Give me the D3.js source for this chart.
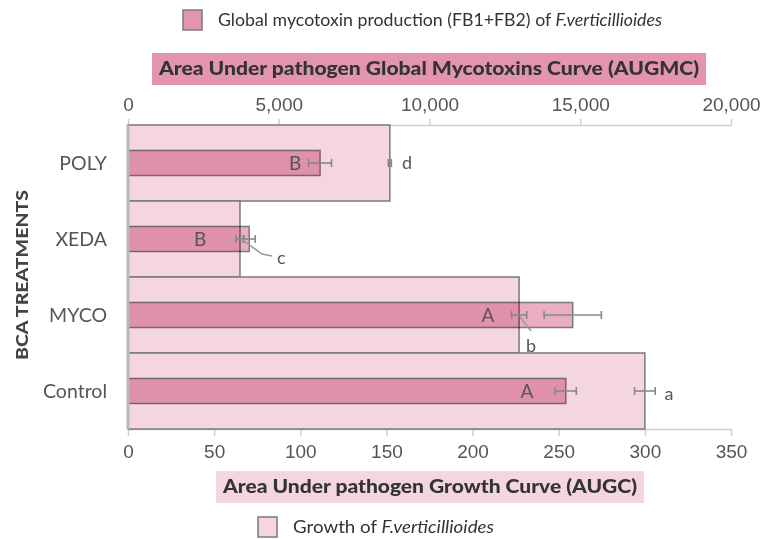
<!DOCTYPE html>
<html>
<head>
<meta charset="utf-8">
<script src="https://cdn.jsdelivr.net/npm/d3@7"></script>
<style>
  body { margin: 0; background: #fff; }
  svg { font-family: Lato, "Open Sans", sans-serif; }
  .axis path, .axis line { stroke: #cfcfcf; stroke-width: 1.5; }
  .axis text { fill: #555; font-size: 19px; }
</style>
</head>
<body>
<div id="chart"></div>
<script>
// treatments, top to bottom
const treatments = ['POLY', 'XEDA', 'MYCO', 'Control'];

// AUGC (growth, bottom axis)
const augc = [152, 65, 227, 300];
const augcErr = [0.6, 2.3, 4.4, 6];
const augcLetters = ['d', 'c', 'b', 'a'];

// AUGMC (global mycotoxins, top axis)
const augmc = [6370, 4020, 14750, 14520];
const augmcErr = [380, 200, 950, 350];
const augmcLetters = ['B', 'B', 'A', 'A'];

const bottomTicks = [0, 50, 100, 150, 200, 250, 300, 350];
const topTicks = [0, 5000, 10000, 15000, 20000];

// where the letters sit (axis units)
const augmcLetterAt = [5540, 2390, 11940, 13230];
const augcLetterAt = [162, 89, 234, 314];

const margin = { left: 128, right: 34, top: 125, bottom: 110 };
const W = 765, H = 539;
const width = W - margin.left - margin.right;
const height = H - margin.top - margin.bottom;

const lightPink = '#f5d5e0';
const darkPink = '#e9aec4';
const edge = '#7a7a7a';

const svg = d3.select('#chart').append('svg')
  .attr('width', W).attr('height', H);

const g = svg.append('g')
  .attr('transform', 'translate(' + margin.left + ', ' + margin.top + ')');

const x = d3.scaleLinear().domain([0, 350]).range([0, width]);
const x2 = d3.scaleLinear().domain([0, 20000]).range([0, width]);
const y = d3.scaleBand().domain(treatments).range([0, height]).padding(0);

// axes
g.append('g').attr('class', 'axis')
  .attr('transform', 'translate(0, ' + height + ')')
  .call(d3.axisBottom(x).tickValues(bottomTicks).tickSize(7).tickPadding(9).tickSizeOuter(0));
g.append('g').attr('class', 'axis')
  .call(d3.axisTop(x2).tickValues(topTicks).tickFormat(d3.format(',')).tickSize(6).tickPadding(8).tickSizeOuter(0));

// light bars (growth)
g.selectAll('.light').data(treatments).join('rect')
  .attr('class', 'light')
  .attr('x', 0)
  .attr('y', d => y(d))
  .attr('width', (d, i) => x(augc[i]))
  .attr('height', y.bandwidth())
  .attr('fill', lightPink)
  .attr('stroke', edge).attr('stroke-width', 1.5);

// dark bars (mycotoxins), multiplied over the light ones
const barH = 25;
g.selectAll('.dark').data(treatments).join('rect')
  .attr('class', 'dark')
  .attr('x', 0)
  .attr('y', d => y(d) + y.bandwidth() / 2 - barH / 2)
  .attr('width', (d, i) => x2(augmc[i]))
  .attr('height', barH)
  .attr('fill', darkPink)
  .style('mix-blend-mode', 'multiply')
  .attr('stroke', edge).attr('stroke-width', 1.5);

// left axis line
g.append('line')
  .attr('x1', 0).attr('x2', 0).attr('y1', 0).attr('y2', height)
  .attr('stroke', '#b8b8b8').attr('stroke-width', 3);

// error bars
function errBar(cx, half, cy) {
  const e = g.append('g').attr('stroke', '#888').attr('stroke-width', 1.6);
  e.append('line').attr('x1', cx - half).attr('x2', cx + half).attr('y1', cy).attr('y2', cy);
  e.append('line').attr('x1', cx - half).attr('x2', cx - half).attr('y1', cy - 4).attr('y2', cy + 4);
  e.append('line').attr('x1', cx + half).attr('x2', cx + half).attr('y1', cy - 4).attr('y2', cy + 4);
}
treatments.forEach((t, i) => {
  const cy = y(t) + y.bandwidth() / 2;
  errBar(x2(augmc[i]), x2(augmcErr[i]), cy);
  errBar(x(augc[i]), Math.max(1.5, x(augc[i] + augcErr[i]) - x(augc[i])), cy);
});

// letters
g.selectAll('.upLetter').data(treatments).join('text')
  .attr('x', (d, i) => x2(augmcLetterAt[i]))
  .attr('y', d => y(d) + y.bandwidth() / 2)
  .attr('dy', '0.36em')
  .attr('text-anchor', 'middle')
  .attr('fill', '#555').attr('font-size', 19)
  .text((d, i) => augmcLetters[i]);

const lowDy = [0, 19, 31, 3];
g.selectAll('.lowLetter').data(treatments).join('text')
  .attr('x', (d, i) => x(augcLetterAt[i]))
  .attr('y', (d, i) => y(d) + y.bandwidth() / 2 + lowDy[i])
  .attr('dy', '0.36em')
  .attr('text-anchor', 'middle')
  .attr('fill', '#555').attr('font-size', 18)
  .text((d, i) => augcLetters[i]);

// callout lines for c and b
const cy1 = y('XEDA') + y.bandwidth() / 2;
g.append('polyline')
  .attr('points', [[x(augc[1]) + 1, cy1], [x(augc[1]) + 22, cy1 + 15], [x(augc[1]) + 32, cy1 + 17]].join(' '))
  .attr('fill', 'none').attr('stroke', '#999').attr('stroke-width', 1.5);
const cy2 = y('MYCO') + y.bandwidth() / 2;
g.append('line')
  .attr('x1', x(augc[2]) + 1).attr('y1', cy2 + 2)
  .attr('x2', x(augc[2]) + 12).attr('y2', cy2 + 16)
  .attr('stroke', '#999').attr('stroke-width', 1.5);

// category labels
g.selectAll('.cat').data(treatments).join('text')
  .attr('x', -21)
  .attr('y', d => y(d) + y.bandwidth() / 2)
  .attr('dy', '0.36em')
  .attr('text-anchor', 'end')
  .attr('fill', '#555').attr('font-size', 19.5)
  .text(d => d);

// y title
svg.append('text')
  .attr('transform', 'translate(28, ' + (margin.top + height / 2 - 2) + ') rotate(-90)')
  .attr('text-anchor', 'middle')
  .attr('fill', '#444').attr('font-size', 17).attr('font-weight', 900)
  .attr('textLength', 170).attr('lengthAdjust', 'spacingAndGlyphs')
  .text('BCA TREATMENTS');

// axis titles with boxes
function boxTitle(label, cx, cy, fill, w) {
  svg.append('rect')
    .attr('x', cx - w / 2 - 7).attr('y', cy - 16)
    .attr('width', w + 14).attr('height', 32)
    .attr('fill', fill);
  svg.append('text')
    .attr('x', cx).attr('y', cy).attr('dy', '0.36em')
    .attr('text-anchor', 'middle')
    .attr('fill', '#333').attr('font-size', 18).attr('font-weight', 900)
    .attr('textLength', w).attr('lengthAdjust', 'spacingAndGlyphs')
    .text(label);
}
boxTitle('Area Under pathogen Global Mycotoxins Curve (AUGMC)', 429, 69, '#e294b0', 540);
boxTitle('Area Under pathogen Growth Curve (AUGC)', 430, 487, lightPink, 414);

// legends
function legend(lx, ly, fill, plain, ital, len) {
  svg.append('rect')
    .attr('x', lx).attr('y', ly - 10).attr('width', 19).attr('height', 20)
    .attr('fill', fill).attr('stroke', edge).attr('stroke-width', 1.5);
  const t = svg.append('text')
    .attr('x', lx + 35).attr('y', ly).attr('dy', '0.36em')
    .attr('fill', '#333').attr('font-size', 17.5)
    .attr('textLength', len).attr('lengthAdjust', 'spacingAndGlyphs');
  t.append('tspan').text(plain);
  t.append('tspan').attr('font-style', 'italic').text(ital);
}
legend(183, 20, '#e394b0', 'Global mycotoxin production (FB1+FB2) of ', 'F.verticillioides', 444);
legend(258, 527, lightPink, 'Growth of ', 'F.verticillioides', 201);
</script>
</body>
</html>
